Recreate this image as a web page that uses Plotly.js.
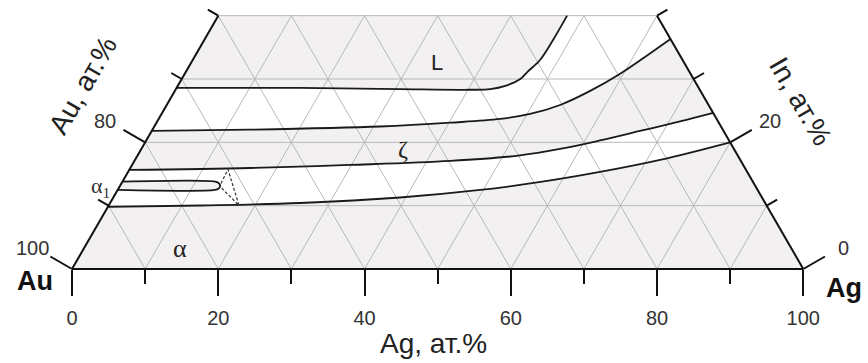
<!DOCTYPE html>
<html><head><meta charset="utf-8">
<script src="https://cdn.plot.ly/plotly-3.0.1.min.js"></script>
<style>html,body{margin:0;padding:0;background:#fff}#chart{width:868px;height:363px}</style>
</head><body><div id="chart"></div>
<script>
// Ternary data: [Ag at.%] and [In at.%]; Au = 100 - Ag - In
const curveL_Ag = [0, 16.9, 30.65, 40.3, 43.0, 44.8, 46.3, 46.7, 47.5, 47.7, 47.7];
const curveL_In = [28.6, 28.6, 28.4, 28.3, 28.4, 28.9, 30.0, 31.1, 33.0, 36.2, 40.0];

const curveZtop_Ag = [0, 13.3, 30.9, 40.2, 46.7, 50.4, 53.8, 56.8, 59.5, 61.6, 63.67];
const curveZtop_In = [21.8, 22.0, 22.5, 23.1, 23.69, 24.48, 25.9, 28.12, 30.8, 33.49, 36.33];

const curveZbot_Ag = [0, 16.4, 29.8, 43.2, 52.3, 57.25, 62.05, 66.77, 71.49, 75.36];
const curveZbot_In = [15.64, 15.95, 16.43, 17.06, 17.93, 18.95, 20.3, 21.8, 23.3, 24.64];

const curveA_Ag = [0, 12.5, 26.0, 39.2, 49.6, 57.2, 64.54, 71.8, 80.0];
const curveA_In = [9.8, 10.03, 10.42, 11.29, 12.48, 13.74, 15.32, 17.22, 20.0];

const loopA1_Ag = [0, 12.7, 13.24, 13.7, 13.69, 13.3, 0];
const loopA1_In = [13.79, 13.79, 13.58, 13.14, 12.68, 12.48, 12.48];

const tie_Ag = [13.62, 13.47, 17.82, 13.94];
const tie_In = [13.5, 15.72, 10.03, 12.87];

const gridSteps = [10, 20, 30, 40, 50, 60, 70, 80, 90];
const inMax = 40;
const bottomMajor = [0, 20, 40, 60, 80, 100];
const bottomMinor = [10, 30, 50, 70, 90];
const edgeTicksIn = [0, 10, 20, 30, 40];
const leftLabels = {0: '100', 20: '80'};
const rightLabels = {0: '0', 20: '20'};

const S3 = Math.sqrt(3) / 2;
const PX = 7.313; // pixels per unit
const X = (ag, inn) => ag + inn / 2;
const Y = inn => inn * S3;
function xy(agA, inA) { return {x: agA.map((a, i) => X(a, inA[i])), y: inA.map(Y)}; }

const SHADE = '#f3f0f1';
const traces = [];
function fillTrace(agA, inA, fill) {
  const p = xy(agA, inA);
  return {x: p.x, y: p.y, mode: 'lines', type: 'scatter', hoverinfo: 'skip',
    line: {width: 0, shape: 'spline', color: SHADE}, fill: fill, fillcolor: SHADE};
}
// L region
traces.push(fillTrace([0, curveL_Ag[curveL_Ag.length - 1]], [inMax, inMax], 'none'));
traces.push(fillTrace(curveL_Ag, curveL_In, 'tonexty'));
// zeta
traces.push(fillTrace(curveZbot_Ag, curveZbot_In, 'none'));
traces.push(fillTrace(curveZtop_Ag, curveZtop_In, 'tonexty'));
// alpha
traces.push(fillTrace([0, 100], [0, 0], 'none'));
traces.push(fillTrace(curveA_Ag, curveA_In, 'tonexty'));
// alpha1
traces.push(fillTrace(loopA1_Ag, loopA1_In, 'toself'));

// grid
const gx = [], gy = [];
function seg(a1, i1, a2, i2) { gx.push(X(a1, i1), X(a2, i2), null); gy.push(Y(i1), Y(i2), null); }
gridSteps.forEach(v => {
  seg(v, 0, v, Math.min(inMax, 100 - v));          // constant Ag
  const t = Math.min(inMax, v);
  seg(v, 0, v - t, t);                              // constant Au
  if (v <= inMax) seg(0, v, 100 - v, v);            // constant In
});
traces.push({x: gx, y: gy, mode: 'lines', type: 'scatter', hoverinfo: 'skip', line: {color: '#b8b8b8', width: 1}});

// boundary curves
function curve(agA, inA) {
  const p = xy(agA, inA);
  return {x: p.x, y: p.y, mode: 'lines', type: 'scatter', hoverinfo: 'skip',
    line: {color: '#1a1a1a', width: 1.8, shape: 'spline'}};
}
traces.push(curve(curveL_Ag, curveL_In));
traces.push(curve(curveZtop_Ag, curveZtop_In));
traces.push(curve(curveZbot_Ag, curveZbot_In));
traces.push(curve(curveA_Ag, curveA_In));
traces.push(curve(loopA1_Ag, loopA1_In));
// tie triangle (dashed)
{
  const p = xy(tie_Ag, tie_In);
  traces.push({x: p.x, y: p.y, mode: 'lines', type: 'scatter', hoverinfo: 'skip',
    line: {color: '#333', width: 1.2, dash: '3px,2px'}});
}

// edges
const ex = [], ey = [];
function eseg(a1, i1, a2, i2) { ex.push(X(a1, i1), X(a2, i2), null); ey.push(Y(i1), Y(i2), null); }
eseg(0, 0, 100, 0);
eseg(0, 0, 0, inMax);
eseg(100, 0, 100 - inMax, inMax);
const LONG = 25 / PX, SHORT = 12 / PX;
edgeTicksIn.forEach(v => {
  const len = (v % 20 === 0 && v < 40) ? LONG : SHORT;
  const lx = X(0, v), ly = Y(v);
  ex.push(lx, lx - S3 * len, null); ey.push(ly, ly + 0.5 * len, null);
  const rx = X(100 - v, v), ry = Y(v);
  ex.push(rx, rx + S3 * len, null); ey.push(ry, ry + 0.5 * len, null);
});
traces.push({x: ex, y: ey, mode: 'lines', type: 'scatter', hoverinfo: 'skip', line: {color: '#111', width: 2}});

const annotations = [];
const LOFF = 46 / PX;
const tickFont = {family: 'Liberation Sans, Arial, sans-serif', size: 20, color: '#333'};
Object.keys(leftLabels).forEach(k => {
  const v = +k;
  annotations.push({x: X(0, v) - S3 * LOFF, y: Y(v) + 0.5 * LOFF, xref: 'x', yref: 'y', text: leftLabels[k],
    showarrow: false, font: tickFont, yshift: -2});
});
Object.keys(rightLabels).forEach(k => {
  const v = +k;
  annotations.push({x: X(100 - v, v) + S3 * LOFF, y: Y(v) + 0.5 * LOFF, xref: 'x', yref: 'y', text: rightLabels[k],
    showarrow: false, font: tickFont, yshift: -2});
});
function paperAnn(px, py, text, font, extra) {
  return Object.assign({x: px / 868, y: 1 - py / 363, xref: 'paper', yref: 'paper', text: text, showarrow: false,
    xanchor: 'center', yanchor: 'middle', font: font}, extra || {});
}
const titleFont = {family: 'Liberation Sans, Arial, sans-serif', size: 28, color: '#222'};
annotations.push(paperAnn(433, 343, 'Ag, ат.%', titleFont));
annotations.push(paperAnn(83, 86, 'Au, ат.%', titleFont, {textangle: -60}));
annotations.push(paperAnn(801, 101, 'In, ат.%', titleFont, {textangle: 60}));
const cornerFont = {family: 'Liberation Sans, Arial, sans-serif', size: 27, color: '#111'};
annotations.push(paperAnn(35, 281, '<b>Au</b>', cornerFont));
annotations.push(paperAnn(844, 288, '<b>Ag</b>', cornerFont));
const phaseFont = {family: 'Liberation Sans, Arial, sans-serif', size: 22, color: '#222'};
annotations.push(paperAnn(437, 63, 'L', phaseFont));
annotations.push(paperAnn(403, 149, 'ζ', {family: 'Liberation Serif, serif', size: 24, color: '#222'}));
annotations.push(paperAnn(180, 248, 'α', {family: 'Liberation Serif, serif', size: 26, color: '#222'}));
annotations.push(paperAnn(100, 187, 'α<sub>1</sub>', {family: 'Liberation Serif, serif', size: 22, color: '#333'}));

const layout = {
  width: 868, height: 363, margin: {l: 0, r: 0, t: 0, b: 0},
  paper_bgcolor: '#fff', plot_bgcolor: '#fff', showlegend: false,
  xaxis: {range: [-72 / PX, (868 - 72) / PX], anchor: 'free', position: 94 / 363,
    showgrid: false, zeroline: false, showline: false,
    tickmode: 'array', tickvals: bottomMajor, ticktext: bottomMajor.map(String),
    ticks: 'outside', ticklen: 26, tickwidth: 2, tickcolor: '#111', tickfont: tickFont, ticklabelstandoff: 5,
    minor: {tickvals: bottomMinor, ticks: 'outside', ticklen: 14, tickwidth: 2, tickcolor: '#111', showgrid: false}},
  yaxis: {range: [-94 / PX, 269 / PX], visible: false},
  annotations: annotations
};
Plotly.newPlot('chart', traces, layout, {staticPlot: true, displayModeBar: false});
</script></body></html>
